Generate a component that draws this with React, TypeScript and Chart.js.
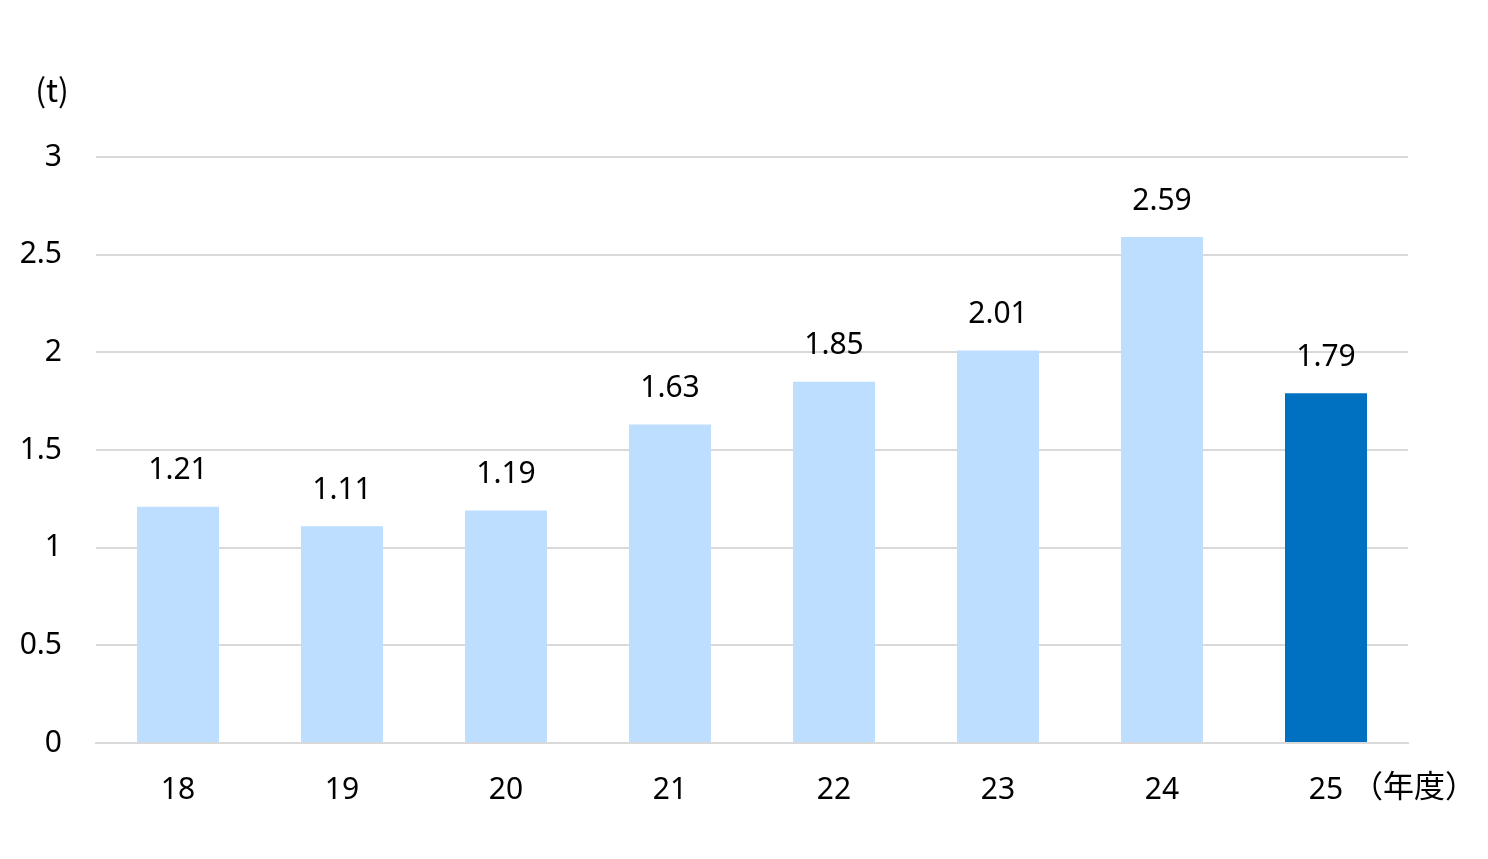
import React, { useEffect, useRef } from "react";
import { Chart, registerables } from "chart.js";

Chart.register(...registerables);

const categories = ["18", "19", "20", "21", "22", "23", "24", "25"];
const values = [1.21, 1.11, 1.19, 1.63, 1.85, 2.01, 2.59, 1.79];
const barColors = ["#BDDEFF", "#BDDEFF", "#BDDEFF", "#BDDEFF", "#BDDEFF", "#BDDEFF", "#BDDEFF", "#0070C0"];
const yTicks = [0, 0.5, 1, 1.5, 2, 2.5, 3];
const yUnit = "(t)";
const xUnit = "（年度）";

const FONT = "'Noto Sans', 'Noto Sans CJK JP', sans-serif";

export default function App() {
  const ref = useRef<HTMLCanvasElement | null>(null);
  useEffect(() => {
    document.body.style.margin = "0";
    const canvas = ref.current!;
    const labelPlugin = {
      id: "labels",
      afterDatasetsDraw(chart: any) {
        const ctx = chart.ctx;
        const meta = chart.getDatasetMeta(0);
        ctx.save();
        ctx.fillStyle = "#000";
        ctx.font = `30px ${FONT}`;
        ctx.textAlign = "center";
        ctx.textBaseline = "middle";
        meta.data.forEach((bar: any, i: number) => {
          ctx.fillText(values[i].toFixed(2), bar.x, bar.y - 36);
        });
        ctx.font = `32px 'Noto Sans CJK JP', sans-serif`;
        ctx.fillText(yUnit, 52, 90);
        const xs = chart.scales.x;
        const lastX = xs.getPixelForValue(categories.length - 1);
        ctx.textAlign = "left";
        ctx.font = `31px 'Noto Sans CJK JP', sans-serif`;
        ctx.fillText(xUnit, lastX + 26, 785);
        ctx.restore();
      },
    };
    const chart = new Chart(canvas, {
      type: "bar",
      data: {
        labels: categories,
        datasets: [
          {
            data: values,
            backgroundColor: barColors,
            categoryPercentage: 1,
            barPercentage: 0.5,
          },
        ],
      },
      options: {
        animation: false,
        responsive: false,
        layout: { padding: { top: 157, right: 80, left: 0, bottom: 0 } },
        plugins: { legend: { display: false }, tooltip: { enabled: false } },
        scales: {
          x: {
            grid: { display: false, drawTicks: false },
            border: { display: true, color: "#D9D9D9", width: 2 },
            ticks: { color: "#000", font: { family: FONT, size: 30 }, padding: 29 },
            afterFit: (s: any) => {
              s.height = 116;
            },
          },
          y: {
            min: 0,
            max: 3,
            afterBuildTicks: (s: any) => {
              s.ticks = yTicks.map((v) => ({ value: v }));
            },
            grid: { color: "#D9D9D9", lineWidth: 2, drawTicks: false },
            border: { display: false },
            ticks: {
              color: "#000",
              font: { family: FONT, size: 30 },
              padding: 34,
              callback: (v: any) => String(Number(v)),
            },
            afterFit: (s: any) => {
              s.width = 96;
            },
          },
        },
      },
      plugins: [labelPlugin],
    });
    return () => chart.destroy();
  }, []);
  return (
    <div style={{ width: 1488, height: 859 }}>
      <canvas ref={ref} width={1488} height={859} style={{ display: "block" }} />
    </div>
  );
}
